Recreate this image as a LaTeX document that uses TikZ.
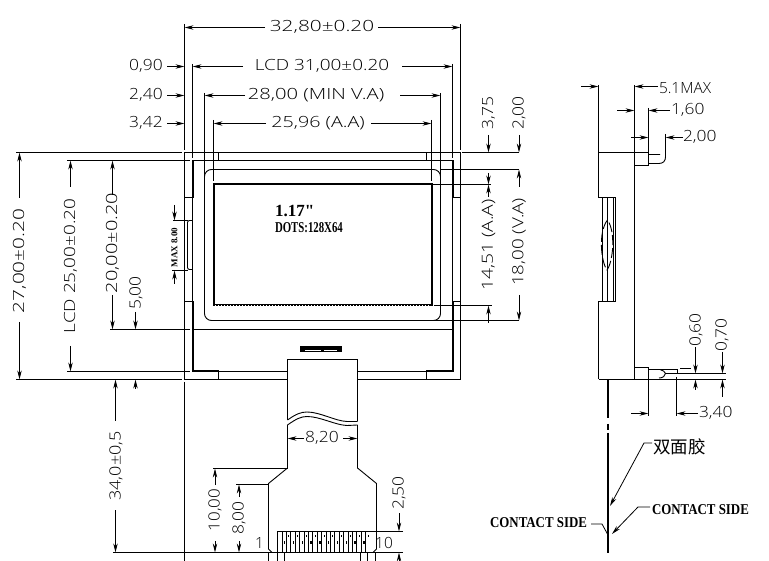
\documentclass[tikz,border=0pt]{standalone}
\usepackage{fontspec}
\usepackage{graphicx}
\usetikzlibrary{arrows.meta,calc}
\setmainfont{Liberation Sans}
\newfontfamily\cadf{Open Sans Light}
\newfontfamily\serifb{Liberation Serif}[BoldFont={* Bold}]
\newfontfamily\cjkf{Noto Sans CJK SC}
\newcommand{\dt}[2][1.13]{\scalebox{#1}[1]{\cadf\fontsize{15.4}{15.4}\selectfont #2}}
\newcommand{\bt}[3]{\scalebox{#1}[1]{\serifb\bfseries\fontsize{#2}{#2}\selectfont #3}}
\tikzset{
  thin line/.style={line width=0.9pt,line cap=butt},
  heavy line/.style={line width=2pt,line cap=rect,line join=miter},
  dim/.style={line width=0.8pt,-{Stealth[length=9pt,width=4.4pt]}},
  lbl/.style={inner sep=0pt,outer sep=0pt,text=black},
  vlbl/.style={lbl,rotate=90},
}
\begin{document}
\begin{tikzpicture}[x=1pt,y=-1pt]
\useasboundingbox (0,0) rectangle (769,561);
\fill[white] (0,0) rectangle (769,561);

% ---------- extension lines (front view)
\draw[thin line] (184.5,24) -- (184.5,150) (192.5,64) -- (192.5,158) (204.5,93) -- (204.5,176)
  (213.5,120) -- (213.5,181) (460.5,24) -- (460.5,150) (452.5,64) -- (452.5,158)
  (440.5,93) -- (440.5,176) (431.5,120) -- (431.5,181);
\draw[thin line] (16,152.5) -- (182,152.5) (67,160.5) -- (190,160.5) (110,329.5) -- (190,329.5)
  (67,371.5) -- (190,371.5) (16,379.5) -- (182,379.5) (184.5,382) -- (184.5,561)
  (113,552.5) -- (403,552.5);
\draw[thin line] (462,152.5) -- (519,152.5) (440,169.5) -- (519,169.5) (433,184.5) -- (491,184.5)
  (434,305.5) -- (492,305.5) (434,320.5) -- (519,320.5);

% ---------- outline
\draw[thin line] (184.5,152.5) rectangle (460.5,379.5);
\draw[thin line] (192.5,160.5) -- (452.5,160.5) (192.5,329.5) -- (452.5,329.5);
\draw[thin line] (218.5,152.5) -- (218.5,160.5) (426.5,152.5) -- (426.5,160.5);
\draw[thin line] (184.5,197.5) -- (192.5,197.5) -- (192.5,301.5) -- (184.5,301.5);
\draw[thin line] (460.5,197.5) -- (452.5,197.5) -- (452.5,301.5) -- (460.5,301.5);
\draw[heavy line] (192.5,161) -- (192.5,197) (452.5,161) -- (452.5,197);
\draw[heavy line] (192.5,302) -- (192.5,371.5) -- (218,371.5) (452.5,302) -- (452.5,371.5) -- (427,371.5);
\draw[thin line] (218,371.5) -- (287,371.5) (357,371.5) -- (427,371.5);
\draw[thin line] (218.5,371.5) -- (218.5,379.5) (426.5,371.5) -- (426.5,379.5);
\fill[white] (287.5,372) rectangle (356.5,381);
\draw[thin line,rounded corners=7pt] (204.5,169.5) rectangle (440.5,320.5);
\draw[heavy line] (213.5,184.5) rectangle (431.5,305);
\draw[white,line width=0.9pt,dash pattern=on 1pt off 2pt] (215,305) -- (430,305);
% MAX notch
\draw[thin line,rounded corners=2pt] (192,220.5) -- (187.5,220.5) -- (187.5,269.5) -- (192,269.5);
\draw[thin line] (173,220.5) -- (188,220.5) (172,270.5) -- (188,270.5);
\draw[dim] (174.5,205) -- (174.5,220.5);
\draw[dim] (174.5,284) -- (174.5,270.5);
\node[vlbl] (maxlab) at (174.5,247.5) {\bt{1}{9}{MAX 8.00}};

% ---------- connector on flex
\fill[black] (300,346) rectangle (342,352.5);
\draw[white,line width=0.9pt] (305,350.5) -- (321,350.5) (324,350.5) -- (337,350.5);
% flex tail
\draw[thin line] (287.5,420) -- (287.5,359.5) -- (357.5,359.5) -- (357.5,421);
\draw[thin line] (287.5,420) .. controls (296,414) and (301,412) .. (307,412) .. controls (320,412) and (335,421) .. (347,421.5) -- (357.5,421.5);
\draw[thin line] (287.5,425) .. controls (296,419) and (301,416.5) .. (307,416.5) .. controls (320,416.5) and (335,425) .. (347,425.5) -- (357.5,425);
\draw[thin line] (287.5,425) -- (287.5,468) -- (268.5,483.5) -- (268.5,549) -- (272,552.5);
\draw[thin line] (357.5,425) -- (357.5,468) -- (376.5,483.5) -- (376.5,549) -- (373,552.5);
\draw[thin line] (213,468.5) -- (287.5,468.5) (236,484.5) -- (268.5,484.5);
% contact pads
\draw[thin line] (403,531.5) -- (277.5,531.5) -- (277.5,552.5);
\foreach \i in {1,...,20} { \draw[line width=0.7pt] ({277.5+\i*4.4},531.5) -- ({277.5+\i*4.4},552.5); }
\foreach \i in {1,3,...,19} {
  \fill[black] ({279.5+\i*4.4},{541}) rectangle ({281+\i*4.4},{544});
  \fill[black] ({283.9+\i*4.4},{535}) rectangle ({285+\i*4.4},{537});
}
\draw[thin line] (268.5,552.5) -- (268.5,561) (277.5,552.5) -- (277.5,561) (284,552.5) -- (284,561)
  (360.5,552.5) -- (360.5,561) (367.5,552.5) -- (367.5,561) (375.5,552.5) -- (375.5,561);

% ---------- top dimensions
\node[lbl] (w328) at (322,27) {\dt[1.35]{32,80±0.20}};
\draw[dim] (265,27.5) -- (184.5,27.5);
\draw[dim] (378,27.5) -- (460.5,27.5);
\node[lbl] (w310) at (322,66) {\dt[1.23]{LCD 31,00±0.20}};
\draw[dim] (243,66.5) -- (192.5,66.5);
\draw[dim] (402,66.5) -- (452.5,66.5);
\node[lbl] (w280) at (316,95) {\dt[1.31]{28,00 (MIN V.A)}};
\draw[dim] (245,95.5) -- (204.5,95.5);
\draw[dim] (400,95.5) -- (440.5,95.5);
\node[lbl] (w2596) at (318,123) {\dt[1.28]{25,96 (A.A)}};
\draw[dim] (266,123.5) -- (213.5,123.5);
\draw[dim] (371,123.5) -- (431.5,123.5);
\node[lbl] (l090) at (146,66) {\dt{0,90}};
\node[lbl] (l240) at (146,95) {\dt{2,40}};
\node[lbl] (l342) at (146,123) {\dt{3,42}};
\draw[dim] (167,66.5) -- (184.5,66.5);
\draw[dim] (167,95.5) -- (184.5,95.5);
\draw[dim] (167,123.5) -- (184.5,123.5);

% ---------- left dimensions
\node[vlbl] (h270) at (19.5,261) {\dt[1.35]{27,00±0.20}};
\draw[dim] (19.5,198) -- (19.5,152.5);
\draw[dim] (19.5,322) -- (19.5,379.5);
\node[vlbl] (h250) at (70.5,266) {\dt[1.23]{LCD 25,00±0.20}};
\draw[dim] (70.5,187) -- (70.5,160.5);
\draw[dim] (70.5,346) -- (70.5,371.5);
\node[vlbl] (h200) at (112.5,243) {\dt[1.3]{20,00±0.20}};
\draw[dim] (112.5,195) -- (112.5,160.5);
\draw[dim] (112.5,295) -- (112.5,329.5);
\node[vlbl] (h500) at (136,293) {\dt{5,00}};
\draw[dim] (135.5,312) -- (135.5,329.5);
\draw[dim] (135.5,389) -- (135.5,379.5);
\node[vlbl] (h340) at (116,466) {\dt[1.17]{34,0±0,5}};
\draw[dim] (115.5,421) -- (115.5,379.5);
\draw[dim] (115.5,510) -- (115.5,552.5);

% ---------- right dimensions
\node[vlbl] (r375) at (488.5,113) {\dt{3,75}};
\node[vlbl] (r200) at (519,113) {\dt{2,00}};
\node[vlbl] (r1451) at (488.5,245) {\dt[1.25]{14,51 (A.A)}};
\node[vlbl] (r1800) at (519,242) {\dt[1.22]{18,00 (V.A)}};
\draw[dim] (488.5,135) -- (488.5,152.5);
\draw[dim] (519,135) -- (519,152.5);
\draw[dim] (488.5,173) -- (488.5,184.5);
\draw[dim] (488.5,197) -- (488.5,184.5);
\draw[dim] (519,187) -- (519,169.5);
\draw[dim] (488.5,323) -- (488.5,305.5);
\draw[dim] (519,295) -- (519,320.5);

% ---------- tail dimensions
\node[lbl] (w820) at (322,438) {\dt{8,20}};
\draw[dim] (304,438.5) -- (287.5,438.5);
\draw[dim] (343,438.5) -- (357.5,438.5);
\node[vlbl] (t1000) at (215,510) {\dt[1.1]{10,00}};
\draw[dim] (215,485) -- (215,468.5);
\draw[dim] (215,541) -- (215,552.5);
\node[vlbl] (t800) at (239,518) {\dt{8,00}};
\draw[dim] (239,497) -- (239,484.5);
\draw[dim] (239,541) -- (239,552.5);
\node[vlbl] (t250) at (399,493) {\dt{2,50}};
\draw[dim] (399,513) -- (399,531.5);
\draw[dim] (399,561) -- (399,552.5);
\node[lbl] (pin1) at (259.5,543) {\dt[1]{1}};
\node[lbl] (pin10) at (384,543) {\dt[1]{10}};

% ---------- panel text
\node[lbl,anchor=west] (size) at (275,211) {\bt{1}{17}{1.17"}};
\node[lbl,anchor=west] (dots) at (275,228) {\bt{0.72}{15}{DOTS:128X64}};

% ---------- side view
\draw[thin line] (598.5,85) -- (598.5,197.5) -- (615.5,197.5) -- (615.5,301.5) -- (598.5,301.5) -- (598.5,379.5);
\draw[thin line] (634.5,85) -- (634.5,379.5);
\draw[thin line] (648.5,108) -- (648.5,165.5) -- (634.5,165.5);
\draw[thin line] (598.5,152.5) -- (648.5,152.5);
\draw[thin line] (602.5,197.5) -- (602.5,301.5) (607.5,197.5) -- (607.5,301.5) (613.5,197.5) -- (613.5,301.5);
\draw[thin line,dashed,dash pattern=on 10pt off 3pt] (607.5,220) .. controls (598,232) and (601,262) .. (607,270) .. controls (613,262) and (616,232) .. (607.5,220);
% upper pin
\draw[thin line] (648.5,154.5) -- (660,154.5) (648.5,163.5) -- (659,163.5) .. controls (663,163.5) and (665.5,161) .. (665.5,157);
\draw[thin line] (665.5,134) -- (665.5,158);
% lower pin
\draw[thin line] (634.5,367.5) -- (648.5,367.5) -- (648.5,416);
\draw[thin line] (648.5,369.5) -- (660,369.5) .. controls (663,370) and (665,372) .. (665.5,373.5) .. controls (665,376) and (663,378) .. (659,378);
\draw[thin line] (648.5,369) -- (677,369) -- (677,373.5) (676.5,377) -- (676.5,416);
\draw[thin line] (680,368.5) -- (691,368.5) (665,373.5) -- (726,373.5) (598.5,379.5) -- (726,379.5);
% side dims
\draw[dim] (581,86.5) -- (598.5,86.5);
\draw[dim] (658,86.5) -- (634.5,86.5);
\node[lbl,anchor=west] (s51) at (659,88) {\dt[1.0]{5.1MAX}};
\draw[dim] (617,110.5) -- (634.5,110.5);
\draw[dim] (670,110.5) -- (648.5,110.5);
\node[lbl,anchor=west] (s160) at (671,110) {\dt{1,60}};
\draw[thin line] (631,137.5) -- (634.5,137.5);
\draw[dim] (634.5,137.5) -- (648.5,137.5);
\draw[dim] (683,137.5) -- (665.5,137.5);
\node[lbl,anchor=west] (s200) at (683,137) {\dt{2,00}};
\node[vlbl] (s060) at (696,330) {\dt{0,60}};
\draw[dim] (695.5,347) -- (695.5,373.5);
\draw[dim] (695.5,390) -- (695.5,379.5);
\node[vlbl] (s070) at (722,335) {\dt{0,70}};
\draw[dim] (722.5,352) -- (722.5,373.5);
\draw[dim] (722.5,397) -- (722.5,379.5);
\draw[dim] (631,413.5) -- (648.5,413.5);
\draw[dim] (698,413.5) -- (676.5,413.5);
\node[lbl,anchor=west] (s340) at (699,413) {\dt{3,40}};
% tape
\draw[line width=1.8pt] (608,380) -- (608,418) (608,424) -- (608,430) (608,433) -- (608,553);
% leaders
\node[lbl,anchor=west] (tape) at (653,447) {\cjkf\fontsize{17.5}{17.5}\selectfont 双面胶};
\node[lbl,anchor=west] (csr) at (652,510) {\bt{0.86}{15}{CONTACT SIDE}};
\node[lbl,anchor=east] (csl) at (587,523) {\bt{0.86}{15}{CONTACT SIDE}};
\draw[dim] (652,443) -- (644,443) -- (610,506);
\draw[dim] (650,507) -- (638,507) -- (612,534);
\draw[line width=0.8pt] (591,524) -- (602,524) -- (608,535);
\end{tikzpicture}
\end{document}
